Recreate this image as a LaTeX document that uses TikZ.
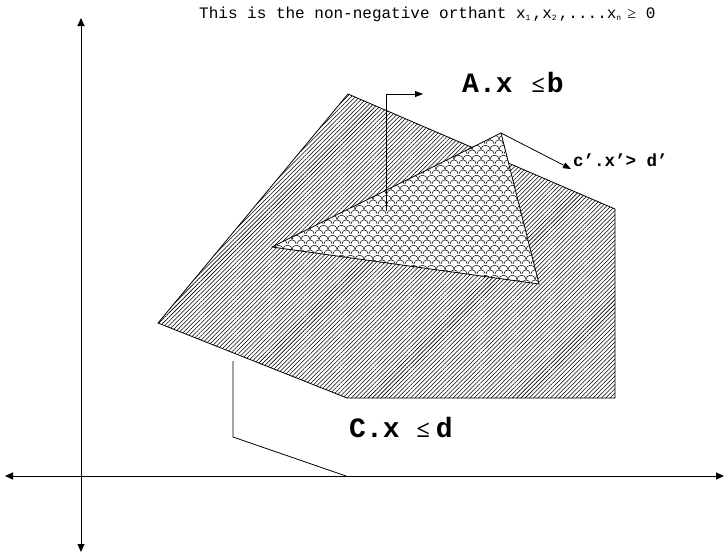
\documentclass[tikz,border=0pt]{standalone}
\usepackage{fontspec}
\usetikzlibrary{arrows.meta,patterns,patterns.meta}
\newfontfamily\monofam{Liberation Mono}
\newfontfamily\serifam{Liberation Serif}
\tikzdeclarepattern{
  name=scales,
  type=uncolored,
  bounding box={(0pt,0pt) and (9pt,10pt)},
  tile size={(9pt,10pt)},
  code={
    \draw[line width=0.55pt] (0pt,0pt) arc[start angle=180,end angle=0,radius=4.5pt];
    \draw[line width=0.55pt] (-4.5pt,5pt) arc[start angle=180,end angle=0,radius=4.5pt];
    \draw[line width=0.55pt] (4.5pt,5pt) arc[start angle=180,end angle=0,radius=4.5pt];
  }
}
\tikzset{
  axis/.style={line width=0.9pt,{Triangle[length=8pt,width=7pt]}-{Triangle[length=8pt,width=7pt]}},
  conn/.style={line width=0.8pt},
  connarrow/.style={line width=0.8pt,-{Triangle[length=8pt,width=6pt]}},
  region/.style={line width=0.8pt,line join=miter},
  biglabel/.style={anchor=base west,inner sep=0pt,font=\monofam\bfseries\fontsize{28}{30}\selectfont},
  smalllabel/.style={anchor=base west,inner sep=0pt,font=\monofam\bfseries\fontsize{17.5}{20}\selectfont},
  toplabel/.style={anchor=base west,inner sep=0pt,font=\monofam\fontsize{16}{18}\selectfont}
}
\newcommand{\mysub}[1]{\makebox[7pt][l]{\raisebox{-2.5pt}{\fontsize{8}{8}\selectfont #1}}}
\begin{document}
\begin{tikzpicture}[x=1pt,y=-1pt]
\useasboundingbox (0,0) rectangle (725,554);
% axes
\coordinate (vtop) at (81,18);
\coordinate (vbot) at (81,552);
\coordinate (hleft) at (5,476);
\coordinate (hright) at (724,476);
\coordinate (cfoot) at (346,476);
\draw[axis] (vbot) -- (vtop);
\draw[axis] (hleft) -- (hright);
% outer polygon C.x <= d
\coordinate (p1) at (158,323);
\coordinate (p2) at (348,94);
\coordinate (p3) at (615,209);
\coordinate (p4) at (615,398);
\coordinate (p5) at (347,398);
\fill[white] (p1) -- (p2) -- (p3) -- (p4) -- (p5) -- cycle;
\fill[pattern={Lines[angle=45,distance=3pt,line width=0.55pt]}] (p1) -- (p2) -- (p3) -- (p4) -- (p5) -- cycle;
\draw[region] (p1) -- (p2) -- (p3) -- (p4) -- (p5) -- cycle;
% triangle
\coordinate (t1) at (272,247);
\coordinate (t2) at (501,133);
\coordinate (t3) at (539,284);
\fill[white] (t1) -- (t2) -- (t3) -- cycle;
\fill[pattern=scales,pattern color=black] (t1) -- (t2) -- (t3) -- cycle;
\draw[region] (t1) -- (t2) -- (t3) -- cycle;
% labels
\node[toplabel] (top) at (199,18) {This is the non-negative orthant x\mysub{1},x\mysub{2},....x\mysub{n}\hspace{4pt}{\serifam\fontsize{16}{18}\selectfont ≥} 0};
\node[biglabel] (alabel) at (462,92) {A.x\hspace{19pt}{\serifam\fontsize{24}{26}\selectfont ≤}\hspace{2pt}b};
\node[biglabel] (clabel) at (349,437) {C.x\hspace{17pt}{\serifam\fontsize{24}{26}\selectfont ≤}\hspace{6pt}d};
\node[smalllabel] (cplabel) at (573,166) {c’.x’> d’};
% connectors
\coordinate (abot) at (386,211);
\coordinate (acorner) at (386,94);
\coordinate (atip) at (423,94);
\draw[connarrow] (abot) -- (acorner) -- (atip);
\coordinate (cptip) at (571,169);
\draw[connarrow] (t2) -- (cptip);
\coordinate (ctop) at (233,361);
\coordinate (ccorner) at (233,437);
\draw[conn] (ctop) -- (ccorner) -- (cfoot);
\end{tikzpicture}
\end{document}
